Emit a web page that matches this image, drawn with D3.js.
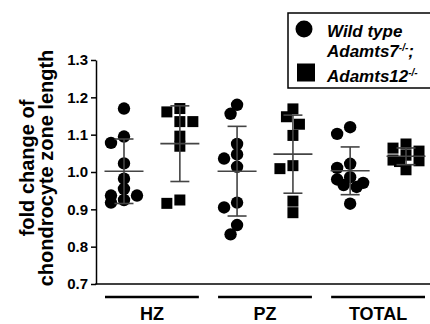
<!DOCTYPE html>
<html>
<head>
<meta charset="utf-8">
<script src="https://cdn.jsdelivr.net/npm/d3@7"></script>
<style>
  html, body { margin: 0; padding: 0; background: #fff; }
  svg { display: block; font-family: "Liberation Sans", Arial, sans-serif; }
</style>
</head>
<body>
<div id="chart"></div>
<script>
const groups = ["HZ", "PZ", "TOTAL"];
const genotypes = ["wt", "ko"];
const yTicks = [0.7, 0.8, 0.9, 1.0, 1.1, 1.2, 1.3];

// fold change per animal
const wtHZ = [1.17, 1.095, 1.078, 1.023, 0.982, 0.955, 0.937, 0.937, 0.925, 0.918];
const koHZ = [1.161, 1.17, 1.135, 1.135, 1.096, 1.069, 0.916, 0.925];
const wtPZ = [1.156, 1.18, 1.075, 1.047, 1.036, 1.014, 0.918, 0.905, 0.858, 0.833];
const koPZ = [1.169, 1.148, 1.128, 1.098, 1.017, 1.009, 0.922, 0.891];
const wtTOTAL = [1.12, 1.102, 1.022, 1.011, 0.98, 0.986, 0.971, 0.965, 0.96, 0.915];
const koTOTAL = [1.064, 1.056, 1.075, 1.045, 1.032, 1.03, 1.028, 1.006];

const series = [
  { group: "HZ", geno: "wt", values: wtHZ },
  { group: "HZ", geno: "ko", values: koHZ },
  { group: "PZ", geno: "wt", values: wtPZ },
  { group: "PZ", geno: "ko", values: koPZ },
  { group: "TOTAL", geno: "wt", values: wtTOTAL },
  { group: "TOTAL", geno: "ko", values: koTOTAL },
];

const width = 430;
const height = 324;
const axisX = 96;

const y = d3.scaleLinear([0.7, 1.3], [284, 60]);
const x = d3.scaleBand(groups, [105, 425]).paddingInner(0.17).paddingOuter(0);
const xInner = d3.scalePoint(genotypes, [0, x.bandwidth()]).padding(0.34);

const svg = d3
  .select("#chart")
  .append("svg")
  .attr("width", width)
  .attr("height", height)
  .attr("viewBox", `0 0 ${width} ${height}`);

// y axis
const leftAxis = d3
  .axisLeft(y)
  .tickValues(yTicks)
  .tickSize(5)
  .tickSizeOuter(0)
  .tickPadding(3)
  .tickFormat(d3.format(".1f"));

const yAxisG = svg
  .append("g")
  .attr("transform", `translate(${axisX},0)`)
  .call(leftAxis);
yAxisG.selectAll("path, line").attr("stroke", "#000").attr("stroke-width", 1.5);
yAxisG
  .selectAll("text")
  .attr("fill", "#000")
  .style("font-size", "15px")
  .style("font-weight", "bold")
  .style("font-family", "'Liberation Sans', Arial, sans-serif");

// x axis line (no ticks)
svg
  .append("line")
  .attr("x1", axisX - 0.75)
  .attr("x2", width)
  .attr("y1", y(0.7))
  .attr("y2", y(0.7))
  .attr("stroke", "#000")
  .attr("stroke-width", 1.5);

// group underlines + labels
const grp = svg.append("g").selectAll("g").data(groups).join("g");
grp
  .append("line")
  .attr("x1", (d) => x(d))
  .attr("x2", (d) => x(d) + x.bandwidth())
  .attr("y1", 297)
  .attr("y2", 297)
  .attr("stroke", "#000")
  .attr("stroke-width", 2.5);
grp
  .append("text")
  .attr("x", (d) => x(d) + x.bandwidth() / 2)
  .attr("y", 320)
  .attr("text-anchor", "middle")
  .style("font-size", "18px")
  .style("font-weight", "bold")
  .text((d) => d);

// y title
const yTitle = svg
  .append("text")
  .attr("transform", "translate(0,168) rotate(-90)")
  .attr("text-anchor", "middle")
  .style("font-size", "20px")
  .style("font-weight", "bold");
yTitle.append("tspan").attr("x", 0).attr("y", 34).text("fold change of");
yTitle.append("tspan").attr("x", 0).attr("y", 53).text("chondrocyte zone length");

// small beeswarm: spread close points sideways, at most 2 slots each way
const step = 6.5;
const minDist = 10;
function swarm(values) {
  const order = d3.range(values.length).sort((a, b) => values[b] - values[a]);
  const placed = [];
  const offsets = new Array(values.length).fill(0);
  order.forEach((i) => {
    const py = y(values[i]);
    let best = null;
    let bestD = -1;
    for (const k of [0, -1, 1, -2, 2]) {
      const px = k * step;
      const d = placed.length
        ? d3.min(placed, (p) => Math.hypot(p.x - px, p.y - py))
        : Infinity;
      if (d >= minDist) {
        best = px;
        break;
      }
      if (d > bestD) {
        bestD = d;
        best = px;
      }
    }
    offsets[i] = best;
    placed.push({ x: best, y: py });
  });
  return offsets;
}

const cols = svg
  .append("g")
  .selectAll("g")
  .data(series)
  .join("g")
  .attr("transform", (d) => `translate(${x(d.group) + xInner(d.geno)},0)`);

cols.each(function (d) {
  const g = d3.select(this);
  const offs = swarm(d.values);
  const pts = d.values.map((v, i) => ({ v, dx: offs[i] }));

  if (d.geno === "wt") {
    g.selectAll("circle")
      .data(pts)
      .join("circle")
      .attr("cx", (p) => p.dx)
      .attr("cy", (p) => y(p.v))
      .attr("r", 6.2)
      .attr("fill", "#000");
  } else {
    g.selectAll("rect")
      .data(pts)
      .join("rect")
      .attr("x", (p) => p.dx - 5.5)
      .attr("y", (p) => y(p.v) - 5.5)
      .attr("width", 11)
      .attr("height", 11)
      .attr("fill", "#000");
  }

  const m = d3.mean(d.values);
  const sd = d3.deviation(d.values);
  const eb = g.append("g").attr("stroke", "#444").attr("stroke-width", 1.6);
  eb.append("line").attr("x1", 0).attr("x2", 0).attr("y1", y(m + sd)).attr("y2", y(m - sd));
  eb.append("line").attr("x1", -19.5).attr("x2", 19.5).attr("y1", y(m)).attr("y2", y(m));
  [m + sd, m - sd].forEach((v) => {
    eb.append("line").attr("x1", -9.5).attr("x2", 9.5).attr("y1", y(v)).attr("y2", y(v));
  });
});

// legend
const legend = svg.append("g");
legend
  .append("rect")
  .attr("x", 288)
  .attr("y", 13)
  .attr("width", 160)
  .attr("height", 75)
  .attr("fill", "#fff")
  .attr("stroke", "#000")
  .attr("stroke-width", 1.5);
legend.append("circle").attr("cx", 304).attr("cy", 29).attr("r", 8.5).attr("fill", "#000");
legend.append("rect").attr("x", 297).attr("y", 63.5).attr("width", 18).attr("height", 18).attr("fill", "#000");

const legText = legend
  .append("g")
  .style("font-size", "17px")
  .style("font-weight", "bold")
  .style("font-style", "italic");
legText.append("text").attr("x", 327).attr("y", 37).text("Wild type");
const l2 = legText.append("text").attr("x", 327).attr("y", 57);
l2.append("tspan").text("Adamts7");
l2.append("tspan").attr("dy", -6).style("font-size", "10px").text("-/-");
l2.append("tspan").attr("dy", 6).text(";");
const l3 = legText.append("text").attr("x", 327).attr("y", 82);
l3.append("tspan").text("Adamts12");
l3.append("tspan").attr("dy", -6).style("font-size", "10px").text("-/-");
</script>
</body>
</html>
